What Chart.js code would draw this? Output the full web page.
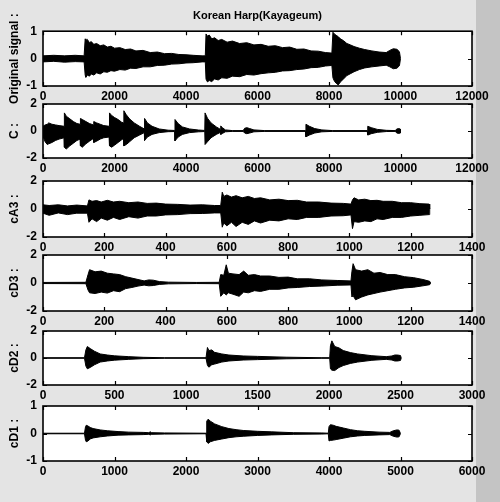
<!DOCTYPE html>
<html>
<head>
<meta charset="utf-8">
<script src="https://cdn.jsdelivr.net/npm/chart.js@4.4.1/dist/chart.umd.min.js"></script>
<style>
  html, body { margin: 0; padding: 0; }
  body { width: 500px; height: 502px; overflow: hidden;
         background: linear-gradient(to right, #e4e4e4 0, #e4e4e4 476px, #c4c4c4 476px, #c4c4c4 500px); }
  #wrap { position: relative; width: 500px; height: 502px; }
  canvas { position: absolute; left: 0; }
</style>
</head>
<body>
<div id="wrap"></div>
<script>
// ---- data (envelope of each signal: x, upper, lower) ----
const chartTitle = 'Korean Harp(Kayageum)';
const yLabels = ['Original signal :', 'C :', 'cA3 :', 'cD3 :', 'cD2 :', 'cD1 :'];

const origX = [0, 300, 600, 900, 1150,
  1180, 1200, 1240, 1300, 1350,
  1420, 1500, 1600, 1700, 1800,
  1900, 2000, 2150, 2300, 2450,
  2600, 2800, 3000, 3200, 3400,
  3600, 3800, 4000, 4200, 4450,
  4540, 4560, 4600, 4650, 4720,
  4800, 4900, 5000, 5150, 5300,
  5500, 5700, 5900, 6100, 6300,
  6500, 6700, 6900, 7100, 7300,
  7500, 7700, 7900, 8080, 8110,
  8150, 8200, 8260, 8320, 8400,
  8500, 8600, 8700, 8850, 9000,
  9200, 9400, 9600, 9700, 9800,
  9900, 9970, 10000];
const origUp = [0.1, 0.12, 0.1, 0.12, 0.1,
  0.72, 0.65, 0.7, 0.58, 0.62,
  0.52, 0.55, 0.47, 0.5, 0.42,
  0.45, 0.38, 0.4, 0.33, 0.35,
  0.28, 0.3, 0.22, 0.24, 0.18,
  0.19, 0.15, 0.14, 0.12, 0.1,
  0.1, 0.9, 0.82, 0.86, 0.72,
  0.76, 0.66, 0.7, 0.6, 0.64,
  0.55, 0.58, 0.5, 0.52, 0.45,
  0.47, 0.4, 0.42, 0.34, 0.35,
  0.28, 0.27, 0.22, 0.2, 0.96,
  0.9, 0.85, 0.8, 0.72, 0.66,
  0.55, 0.5, 0.44, 0.38, 0.33,
  0.28, 0.24, 0.22, 0.3, 0.36,
  0.34, 0.25, 0];
const origLo = [-0.12, -0.1, -0.13, -0.11, -0.12,
  -0.6, -0.68, -0.6, -0.64, -0.56,
  -0.6, -0.52, -0.56, -0.48, -0.5,
  -0.44, -0.46, -0.4, -0.42, -0.35,
  -0.36, -0.3, -0.3, -0.25, -0.24,
  -0.2, -0.19, -0.16, -0.15, -0.12,
  -0.12, -0.75, -0.85, -0.8, -0.84,
  -0.74, -0.78, -0.7, -0.72, -0.64,
  -0.66, -0.58, -0.6, -0.55, -0.52,
  -0.5, -0.45, -0.44, -0.4, -0.38,
  -0.33, -0.32, -0.27, -0.25, -0.7,
  -0.82, -0.9, -0.96, -0.85, -0.75,
  -0.62, -0.55, -0.48, -0.4, -0.34,
  -0.3, -0.27, -0.24, -0.3, -0.37,
  -0.35, -0.26, 0];

const cX = [0, 60, 120, 160, 250,
  350, 450, 590, 598, 650,
  750, 850, 950, 1040, 1047,
  1100, 1200, 1300, 1410, 1420,
  1500, 1600, 1700, 1850, 1860,
  1920, 2000, 2100, 2200, 2255,
  2262, 2330, 2420, 2550, 2700,
  2835, 2841, 2920, 3050, 3250,
  3500, 3685, 3692, 3780, 3900,
  4100, 4350, 4525, 4533, 4600,
  4700, 4850, 4965, 4972, 5020,
  5100, 5300, 5600, 5640, 5700,
  5780, 5900, 6200, 7340, 7355,
  7450, 7600, 7800, 8100, 9070,
  9084, 9180, 9350, 9600, 9850,
  9900, 9950, 9990, 10000];
const cUp = [0.35, 0.45, 0.5, 0.6, 0.5,
  0.45, 0.4, 0.35, 1.34, 1.1,
  0.9, 0.7, 0.55, 0.5, 0.93,
  0.85, 0.7, 0.55, 0.45, 0.7,
  0.6, 0.5, 0.4, 0.35, 1.34,
  1.15, 1.0, 0.85, 0.65, 0.6,
  1.5, 1.2, 0.9, 0.6, 0.35,
  0.15, 0.93, 0.6, 0.35, 0.15,
  0.06, 0.04, 0.85, 0.55, 0.3,
  0.15, 0.07, 0.04, 1.34, 0.95,
  0.6, 0.3, 0.12, 0.37, 0.25,
  0.08, 0.03, 0.03, 0.2, 0.25,
  0.18, 0.08, 0.03, 0.03, 0.5,
  0.35, 0.18, 0.08, 0.03, 0.03,
  0.35, 0.25, 0.12, 0.05, 0.03,
  0.15, 0.18, 0.15, 0];
const cLo = [-0.4, -0.8, -1.0, -0.95, -0.85,
  -0.7, -0.6, -0.5, -1.2, -1.34,
  -1.1, -0.9, -0.7, -0.6, -1.1,
  -1.2, -0.95, -0.75, -0.55, -0.85,
  -0.75, -0.6, -0.5, -0.45, -1.1,
  -1.2, -1.05, -0.85, -0.65, -0.55,
  -1.1, -1.0, -0.8, -0.5, -0.3,
  -0.12, -0.7, -0.45, -0.25, -0.12,
  -0.05, -0.04, -0.73, -0.45, -0.25,
  -0.12, -0.06, -0.04, -1.0, -0.8,
  -0.5, -0.25, -0.1, -0.25, -0.18,
  -0.06, -0.03, -0.03, -0.15, -0.2,
  -0.15, -0.06, -0.03, -0.03, -0.43,
  -0.3, -0.15, -0.06, -0.03, -0.03,
  -0.3, -0.2, -0.1, -0.04, -0.03,
  -0.15, -0.18, -0.15, 0];

const a3X = [0, 20, 50, 80, 110,
  145, 150, 160, 175, 190,
  210, 230, 250, 280, 310,
  340, 370, 400, 440, 480,
  520, 560, 580, 585, 590,
  600, 615, 630, 650, 670,
  690, 710, 740, 770, 800,
  830, 860, 900, 940, 980,
  1005, 1010, 1015, 1030, 1050,
  1070, 1090, 1110, 1140, 1170,
  1200, 1230, 1260, 1262];
const a3Up = [0.3, 0.25, 0.3, 0.22, 0.28,
  0.22, 0.65, 0.55, 0.6, 0.5,
  0.62, 0.5, 0.55, 0.45, 0.5,
  0.4, 0.42, 0.35, 0.33, 0.28,
  0.3, 0.25, 0.25, 1.2, 0.9,
  1.0, 0.85, 0.95, 0.8, 0.9,
  0.75, 0.8, 0.65, 0.7, 0.6,
  0.62, 0.5, 0.5, 0.42, 0.4,
  0.35, 0.65, 0.8, 0.65, 0.7,
  0.6, 0.62, 0.55, 0.55, 0.45,
  0.45, 0.38, 0.35, 0];
const a3Lo = [-0.3, -0.45, -0.28, -0.4, -0.3,
  -0.3, -0.95, -0.7, -0.9, -0.65,
  -0.8, -0.6, -0.75, -0.55, -0.65,
  -0.5, -0.5, -0.42, -0.4, -0.33,
  -0.32, -0.28, -0.28, -1.3, -1.0,
  -1.2, -0.95, -1.25, -0.95, -1.1,
  -0.85, -1.0, -0.8, -0.85, -0.7,
  -0.75, -0.6, -0.6, -0.5, -0.48,
  -0.42, -1.4, -0.9, -0.95, -0.85,
  -0.9, -0.7, -0.75, -0.6, -0.6,
  -0.5, -0.45, -0.4, 0];

const d3X = [0, 140, 147, 152, 170,
  190, 210, 230, 250, 270,
  290, 310, 330, 345, 360,
  380, 410, 500, 575, 580,
  590, 598, 605, 620, 640,
  655, 670, 690, 710, 740,
  770, 800, 830, 870, 910,
  960, 1005, 1008, 1012, 1020,
  1040, 1060, 1080, 1100, 1125,
  1150, 1180, 1210, 1240, 1262,
  1265];
const d3Up = [0.04, 0.05, 0.6, 0.95, 0.8,
  0.85, 0.7, 0.65, 0.6, 0.45,
  0.35, 0.25, 0.15, 0.22, 0.2,
  0.1, 0.06, 0.04, 0.05, 0.6,
  0.55, 1.3, 0.7, 0.65, 0.6,
  0.85, 0.55, 0.6, 0.5, 0.5,
  0.4, 0.42, 0.3, 0.3, 0.22,
  0.18, 0.15, 0.8, 1.38, 0.95,
  0.85, 0.95, 0.7, 0.75, 0.6,
  0.6, 0.45, 0.38, 0.25, 0.12,
  0];
const d3Lo = [-0.04, -0.05, -0.5, -0.7, -0.75,
  -0.65, -0.72, -0.55, -0.62, -0.4,
  -0.32, -0.22, -0.15, -0.2, -0.18,
  -0.1, -0.06, -0.04, -0.05, -0.95,
  -0.7, -0.85, -0.7, -0.8, -0.95,
  -0.65, -0.7, -0.55, -0.6, -0.45,
  -0.45, -0.35, -0.32, -0.25, -0.22,
  -0.16, -0.14, -1.0, -0.9, -1.2,
  -1.0, -0.85, -0.75, -0.65, -0.55,
  -0.45, -0.35, -0.3, -0.2, -0.12,
  0];

const d2X = [0, 290, 300, 310, 330,
  360, 400, 450, 500, 600,
  700, 850, 1140, 1150, 1160,
  1180, 1200, 1250, 1300, 1400,
  1500, 1700, 1950, 2005, 2010,
  2020, 2040, 2070, 2100, 2150,
  2200, 2300, 2400, 2440, 2460,
  2480, 2500, 2505];
const d2Up = [0.02, 0.02, 0.6, 0.85, 0.7,
  0.5, 0.3, 0.22, 0.16, 0.1,
  0.05, 0.02, 0.02, 0.78, 0.55,
  0.6, 0.42, 0.3, 0.22, 0.15,
  0.12, 0.06, 0.02, 0.02, 0.9,
  1.27, 0.85, 0.75, 0.55, 0.4,
  0.3, 0.17, 0.1, 0.15, 0.22,
  0.22, 0.18, 0];
const d2Lo = [-0.02, -0.02, -0.6, -0.8, -0.7,
  -0.5, -0.3, -0.22, -0.16, -0.1,
  -0.05, -0.02, -0.02, -0.55, -0.68,
  -0.5, -0.45, -0.3, -0.22, -0.15,
  -0.12, -0.06, -0.02, -0.02, -0.8,
  -0.9, -0.93, -0.7, -0.56, -0.4,
  -0.3, -0.17, -0.1, -0.15, -0.22,
  -0.22, -0.18, 0];

const d1X = [0, 580, 595, 605, 630,
  660, 700, 800, 900, 1050,
  1200, 1400, 1480, 1500, 1520,
  1700, 2280, 2290, 2310, 2340,
  2400, 2500, 2600, 2700, 2800,
  3000, 3200, 3500, 3900, 3990,
  4000, 4020, 4060, 4100, 4200,
  4300, 4400, 4500, 4700, 4850,
  4900, 4950, 4980, 5000];
const d1Up = [0.01, 0.01, 0.25, 0.3, 0.27,
  0.22, 0.18, 0.13, 0.1, 0.07,
  0.05, 0.04, 0.03, 0.06, 0.03,
  0.02, 0.01, 0.45, 0.52, 0.45,
  0.35, 0.25, 0.18, 0.14, 0.11,
  0.08, 0.06, 0.03, 0.02, 0.01,
  0.25, 0.32, 0.3, 0.26, 0.2,
  0.14, 0.1, 0.08, 0.05, 0.04,
  0.1, 0.13, 0.12, 0];
const d1Lo = [-0.01, -0.01, -0.25, -0.3, -0.27,
  -0.2, -0.16, -0.12, -0.09, -0.06,
  -0.05, -0.04, -0.03, -0.05, -0.03,
  -0.02, -0.01, -0.3, -0.36, -0.3,
  -0.25, -0.2, -0.15, -0.12, -0.1,
  -0.07, -0.05, -0.03, -0.02, -0.01,
  -0.27, -0.25, -0.24, -0.22, -0.17,
  -0.12, -0.09, -0.07, -0.05, -0.04,
  -0.1, -0.13, -0.12, 0];

// axis ranges and tick steps per panel
const xMax  = [12000, 12000, 1400, 1400, 3000, 6000];
const xStep = [2000, 2000, 200, 200, 500, 1000];
const yLim  = [1, 2, 2, 2, 2, 1];
const yStep = [1, 2, 2, 2, 2, 1];

// ---- layout of the six boxes ----
const panels = [
  { x: origX, up: origUp, lo: origLo, top: 31,  h: 55 },
  { x: cX,    up: cUp,    lo: cLo,    top: 104, h: 54 },
  { x: a3X,   up: a3Up,   lo: a3Lo,   top: 181, h: 56 },
  { x: d3X,   up: d3Up,   lo: d3Lo,   top: 255, h: 56 },
  { x: d2X,   up: d2Up,   lo: d2Lo,   top: 331, h: 54 },
  { x: d1X,   up: d1Up,   lo: d1Lo,   top: 406, h: 55 }
];

const FONT = 'Liberation Sans, Arial, sans-serif';
const PAD_TOP = 30, X_AXIS_H = 20, PAD_BOTTOM = 25;

// white axes box, MATLAB-like inward ticks on all four sides
const matlabBox = {
  id: 'matlabBox',
  beforeDraw(chart) {
    const { ctx, chartArea: a } = chart;
    ctx.save();
    ctx.fillStyle = '#fff';
    ctx.fillRect(a.left, a.top, a.width, a.height);
    ctx.restore();
  },
  afterDraw(chart) {
    const { ctx, chartArea: a, scales } = chart;
    const tl = 4;
    ctx.save();
    ctx.strokeStyle = '#000';
    ctx.lineWidth = 1.2;
    ctx.beginPath();
    scales.x.ticks.forEach(t => {
      const px = Math.round(scales.x.getPixelForValue(t.value)) + 0.5;
      ctx.moveTo(px, a.top); ctx.lineTo(px, a.top + tl);
      ctx.moveTo(px, a.bottom); ctx.lineTo(px, a.bottom - tl);
    });
    scales.y.ticks.forEach(t => {
      const py = Math.round(scales.y.getPixelForValue(t.value)) + 0.5;
      ctx.moveTo(a.left, py); ctx.lineTo(a.left + tl, py);
      ctx.moveTo(a.right, py); ctx.lineTo(a.right - tl, py);
    });
    ctx.stroke();
    ctx.lineWidth = 1.6;
    ctx.strokeRect(a.left, a.top, a.width, a.height);
    ctx.restore();
  }
};

const wrap = document.getElementById('wrap');

panels.forEach((p, i) => {
  const cv = document.createElement('canvas');
  const first = i === 0;
  const canvasTop = first ? 0 : p.top - PAD_TOP;
  const padTop = first ? 0 : PAD_TOP;
  const height = (first ? p.top : PAD_TOP) + p.h + X_AXIS_H + PAD_BOTTOM;
  cv.width = 500;
  cv.height = height;
  cv.style.top = canvasTop + 'px';
  wrap.appendChild(cv);

  const upper = p.x.map((v, k) => ({ x: v, y: p.up[k] }));
  const lower = p.x.map((v, k) => ({ x: v, y: p.lo[k] }));

  new Chart(cv, {
    type: 'line',
    data: {
      datasets: [
        { data: upper, borderColor: '#000', backgroundColor: '#000', borderWidth: 1,
          pointRadius: 0, tension: 0, fill: '+1' },
        { data: lower, borderColor: '#000', backgroundColor: '#000', borderWidth: 1,
          pointRadius: 0, tension: 0, fill: false }
      ]
    },
    options: {
      responsive: false,
      animation: false,
      devicePixelRatio: 1,
      layout: { padding: { top: padTop, right: 28, bottom: PAD_BOTTOM, left: 0 } },
      plugins: {
        legend: { display: false },
        tooltip: { enabled: false },
        title: {
          display: first,
          text: chartTitle,
          fullSize: false,
          color: '#000',
          font: { family: FONT, size: 11, weight: 'bold' },
          padding: { top: 9, bottom: 9 }
        }
      },
      scales: {
        x: {
          type: 'linear',
          min: 0,
          max: xMax[i],
          grid: { display: false, drawTicks: false },
          border: { display: false },
          ticks: { stepSize: xStep[i], autoSkip: false, maxRotation: 0, color: '#000', padding: 3,
                   font: { family: FONT, size: 12, weight: 'bold' },
                   callback: v => String(v) },
          afterFit: s => { s.height = X_AXIS_H; }
        },
        y: {
          min: -yLim[i],
          max: yLim[i],
          grid: { display: false, drawTicks: false },
          border: { display: false },
          ticks: { stepSize: yStep[i], color: '#000', padding: 6,
                   font: { family: FONT, size: 12, weight: 'bold' } },
          title: { display: true, text: yLabels[i], color: '#000',
                   font: { family: FONT, size: 12, weight: 'bold' },
                   padding: { top: 7, bottom: 0 } },
          afterFit: s => { s.width = 43; }
        }
      }
    },
    plugins: [matlabBox]
  });
});
</script>
</body>
</html>
